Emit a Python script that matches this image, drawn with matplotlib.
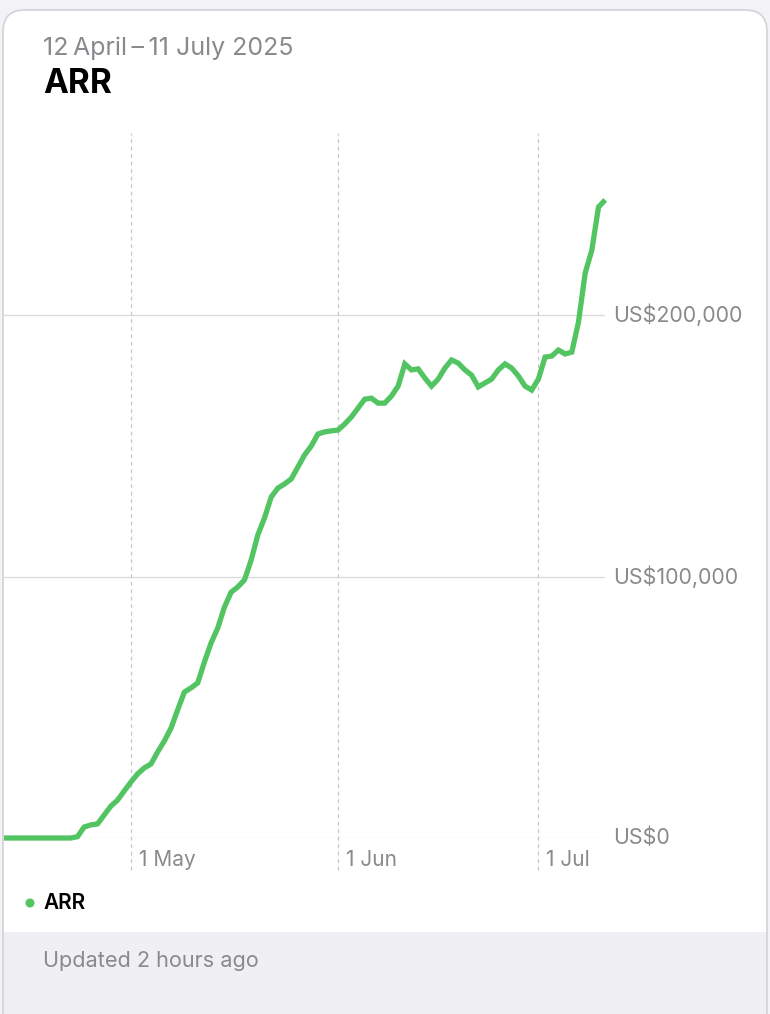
import matplotlib
matplotlib.use("Agg")
import matplotlib.pyplot as plt
import matplotlib.patches as mpatches
import numpy as np
import pandas as pd

# ---- data ----
start_date = "2025-04-12"
end_date = "2025-07-11"
arr_values_k = [
    0, 0, 0, 0, 0, 0, 0, 0, 0, 0, 0,                # 12-22 Apr
    0.5, 4.2, 5.0, 5.4, 8.8, 12.2, 14.5, 18.0,     # 23-30 Apr
    21.4, 24.5, 26.8, 28.3, 32.9, 37.1, 42.0, 49.0, 55.8, 57.4,
    59.3, 67.3, 74.6, 80.3, 88.3, 94.0, 96.0, 98.7, 106.3, 115.9,
    122.4, 130.4, 133.8, 135.4, 137.3, 141.9, 146.5, 149.9, 154.5, 155.3,
    155.7,                                          # 31 May
    156.0, 158.3, 161.0, 164.4, 167.8, 168.2, 166.3, 166.3, 169.0, 172.8,
    181.3, 179.0, 179.4, 175.9, 172.8, 175.5, 179.7, 182.8, 181.6, 179.0,
    177.0, 172.5, 174.0, 175.5, 179.0, 181.3, 179.7, 176.7, 172.8, 171.3,
    175.5, 183.9, 184.3, 186.6, 185.1, 185.8, 197.3, 216.0, 224.8, 241.3,
    244.0,
]
y_ticks = [0, 100000, 200000]
y_tick_labels = ["US$0", "US$100,000", "US$200,000"]
x_tick_dates = ["2025-05-01", "2025-06-01", "2025-07-01"]
x_tick_labels = ["1 May", "1 Jun", "1 Jul"]
title_range = "12\u2009April\u2009\u2013\u200911 July 2025"
title_metric = "ARR"
series_name = "ARR"
footer_text = "Updated 2 hours ago"

# ---- styling ----
W, H = 770, 1014
GREEN = "#52c462"
GRAY_TXT = "#8a8a8e"
BG = "#f2f2f7"
FONT = ["Inter", "DejaVu Sans"]
plt.rcParams["font.family"] = FONT

fig = plt.figure(figsize=(W / 100, H / 100), dpi=100)
fig.patch.set_facecolor(BG)

def fx(px):
    return px / W

def fy(py):
    return 1 - py / H

# card
card = mpatches.FancyBboxPatch(
    (fx(3), fy(1040)), fx(767) - fx(3), fy(10) - fy(1040),
    boxstyle="round,pad=0,rounding_size=0.028",
    transform=fig.transFigure, facecolor="white", edgecolor="none",
    linewidth=0, zorder=-3, mutation_aspect=W / H,
)
fig.patches.append(card)
footer = mpatches.Rectangle(
    (0, 0), 1, fy(932), transform=fig.transFigure,
    facecolor="#f0f0f4", edgecolor="none", zorder=-2,
)
fig.patches.append(footer)
footer.set_clip_path(card)
card2 = mpatches.FancyBboxPatch(
    (fx(3), fy(1040)), fx(767) - fx(3), fy(10) - fy(1040),
    boxstyle="round,pad=0,rounding_size=0.028",
    transform=fig.transFigure, facecolor="none", edgecolor="#d2d2d7",
    linewidth=1.2, zorder=-1, mutation_aspect=W / H,
)
fig.patches.append(card2)

# axes
ax_left, ax_right, ax_top, ax_bottom = 3, 605, 133, 838
ax = fig.add_axes([fx(ax_left), fy(ax_bottom), fx(ax_right) - fx(ax_left),
                   fy(ax_top) - fy(ax_bottom)])
ax.set_facecolor("none")
ax.set_zorder(2)

dates = pd.date_range(start_date, end_date, freq="D")
t0 = pd.Timestamp(start_date)
days = np.array([(d - t0).days for d in dates], dtype=float)
values = np.array(arr_values_k) * 1000.0

px_per_day = 6.68
ax.set_xlim(-1 / px_per_day, (ax_right - 4) / px_per_day)
ax.set_ylim(0, (ax_bottom - ax_top) / 261.5 * 100000)

for s in ax.spines.values():
    s.set_visible(False)
ax.set_xticks([])
ax.set_yticks([])

# horizontal grid
for yv in y_ticks:
    ax.axhline(yv, color="#d9d9dd", lw=0.9, zorder=1)
# vertical dashed grid
ext = (870 - ax_bottom) / (ax_bottom - ax_top)
for d, lab in zip(x_tick_dates, x_tick_labels):
    xd = (pd.Timestamp(d) - t0).days
    ax.axvline(xd, ymin=-ext, ymax=1, color="#c7c7cc", lw=0.9,
               linestyle=(0, (3, 3)), clip_on=False, zorder=1)
    ax.annotate(lab, xy=(xd, 0), xycoords="data", xytext=(8 * 0.72, -22 * 0.72),
                textcoords="offset points", ha="left", va="center",
                fontsize=15, color=GRAY_TXT, annotation_clip=False)

for yv, lab in zip(y_ticks, y_tick_labels):
    ax.annotate(lab, xy=(1, yv), xycoords=("axes fraction", "data"),
                xytext=(8 * 0.72, 0), textcoords="offset points",
                ha="left", va="center", fontsize=15.4, color=GRAY_TXT,
                annotation_clip=False)

ax.plot(days, values, color=GREEN, lw=3.8, solid_joinstyle="miter",
        solid_capstyle="butt", clip_on=False, zorder=3)

# header texts
fig.text(fx(43), fy(48), title_range, ha="left", va="center",
         fontsize=18, color=GRAY_TXT)
fig.text(fx(43), fy(84), title_metric, ha="left", va="center",
         fontsize=24, color="black", fontweight="bold")

# legend
fig.patches.append(mpatches.Ellipse((fx(30), fy(903)), 9 / W, 9 / H,
                                    transform=fig.transFigure,
                                    facecolor=GREEN, edgecolor="none"))
fig.text(fx(43), fy(903), series_name, ha="left", va="center",
         fontsize=15, color="black", fontweight="semibold")

fig.text(fx(43), fy(961), footer_text, ha="left", va="center",
         fontsize=15.6, color=GRAY_TXT)

fig.savefig("out.png", dpi=100, facecolor=fig.get_facecolor())
